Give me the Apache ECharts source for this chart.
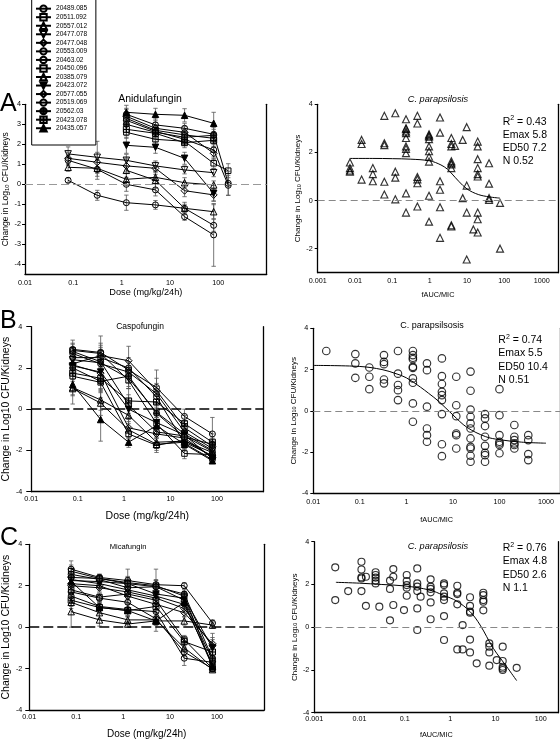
<!DOCTYPE html>
<html><head><meta charset="utf-8">
<script src="https://cdn.jsdelivr.net/npm/echarts@6/dist/echarts.min.js"></script>
<style>html,body{margin:0;padding:0;background:#fff}#c{width:560px;height:741px}</style>
</head><body><div id="c"></div>
<script>
// ---------------- DATA ----------------
const strains = ['20489.085','20511.092','20557.012','20477.078','20477.048','20553.009','20463.02','20450.096','20385.079','20423.072','20577.055','20519.069','20562.03','20423.078','20435.057'];

const doseA = [0.078, 0.3125, 1.25, 5, 20, 80, 160];
const doseBC = [0.078, 0.3125, 1.25, 5, 20, 80];

const anidulafungin = [
  [0.2,-0.55,-0.92,-1.03,-1.2,-2.05,null],
  [null,null,2.6,2.25,2.15,1.05,0.68],
  [0.85,0.8,0.25,0.35,0.08,-0.03,null],
  [1.52,1.35,1.2,0.92,0.72,0.58,null],
  [1.3,1.1,0.92,0.8,-0.32,-0.53,null],
  [null,null,3.5,2.97,2.8,2.5,0.05],
  [1.2,0.75,0.0,-0.28,-1.62,-2.53,null],
  [null,null,3.3,2.7,2.47,2.3,null],
  [null,null,0.7,0.2,-1.2,-1.37,null],
  [null,null,1.95,1.85,1.3,-0.45,null],
  [null,null,3.4,2.8,2.6,1.55,null],
  [null,null,3.2,2.65,2.25,1.72,-0.05],
  [null,null,3.0,2.6,2.35,2.45,null],
  [null,null,2.75,2.55,2.08,2.2,null],
  [null,null,3.6,3.5,3.45,3.05,null]
];
const anidulafunginSD = [
  [0.12,0.25,0.38,0.22,0.2,0.3,null],
  [null,null,0.3,0.25,0.2,0.25,0.35],
  [0.2,0.4,0.3,0.3,0.25,0.2,null],
  [0.35,0.8,0.3,0.25,0.2,0.2,null],
  [0.3,0.5,0.3,0.3,0.3,0.3,null],
  [null,null,0.3,0.3,0.25,0.35,0.6],
  [0.25,0.5,0.35,0.3,0.18,1.57,null],
  [null,null,0.3,0.25,0.3,0.3,null],
  [null,null,0.6,0.4,0.3,0.35,null],
  [null,null,0.4,0.3,0.3,0.4,null],
  [null,null,0.35,0.3,0.3,0.3,null],
  [null,null,0.3,0.3,0.3,0.35,0.5],
  [null,null,0.4,0.3,0.3,0.3,null],
  [null,null,0.3,0.3,0.25,0.3,null],
  [null,null,0.35,0.3,0.33,0.55,null]
];

const caspofungin = [
  [2.9,2.75,1.9,1.05,-0.35,-1.2],
  [2.85,2.7,1.4,-0.7,-2.15,-2.2],
  [1.05,0.45,-0.3,-1.6,-1.55,-2.1],
  [2.4,2.25,1.5,-0.15,-1.2,-2.0],
  [2.2,2.6,2.35,0.9,-0.9,-1.8],
  [2.8,2.3,0.2,-1.1,-1.3,-2.05],
  [2.7,2.2,1.8,0.75,-1.1,-1.9],
  [1.6,1.3,-1.2,-1.75,-1.5,-2.3],
  [1.0,0.3,-1.0,-1.7,-1.6,-2.25],
  [2.1,1.8,0.0,-0.65,-1.25,-2.4],
  [2.15,1.75,-0.9,-1.2,-1.4,-2.35],
  [2.5,2.5,2.0,0.6,-1.65,-2.45],
  [2.0,1.35,1.6,-0.2,-1.35,-1.7],
  [1.75,1.5,0.4,0.35,-0.7,-1.6],
  [1.2,-0.5,-1.6,-0.8,-1.7,-2.5]
];
const caspofunginSD = [
  [0.45,0.8,0.4,0.85,0.35,0.8],
  [0.3,0.5,0.4,0.3,0.25,0.2],
  [0.4,0.5,0.4,0.3,0.3,0.2],
  [0.3,0.6,0.5,0.4,0.3,0.2],
  [0.3,0.5,0.7,0.6,0.3,0.3],
  [0.4,0.6,0.5,0.3,0.3,0.2],
  [0.3,0.6,0.5,0.5,0.3,0.3],
  [0.4,0.5,0.3,0.35,0.3,0.2],
  [0.75,0.6,0.4,0.3,0.3,0.2],
  [0.3,0.5,0.5,0.4,0.3,0.15],
  [0.3,0.5,0.5,0.4,0.3,0.15],
  [0.3,0.5,0.5,0.5,0.3,0.1],
  [0.4,0.5,0.5,0.5,0.3,0.3],
  [0.4,0.5,0.6,0.5,0.4,0.4],
  [0.5,1.05,0.25,0.4,0.3,0.1]
];

const micafungin = [
  [2.8,2.4,2.25,2.05,2.0,0.2],
  [2.7,2.35,2.15,2.0,1.5,-1.9],
  [0.75,0.35,0.15,0.3,0.3,0.1],
  [2.3,2.1,1.8,1.5,1.1,-1.8],
  [2.0,1.9,1.7,1.4,0.9,-0.9],
  [1.5,1.0,0.85,0.75,-1.5,-1.7],
  [2.55,2.3,1.9,1.95,1.3,-1.6],
  [1.8,1.45,1.6,1.3,-0.6,-2.0],
  [1.2,0.7,0.35,0.35,-1.0,-2.05],
  [2.25,2.2,2.1,1.6,1.4,-1.0],
  [2.1,2.0,1.5,1.1,0.7,-0.8],
  [1.7,1.4,1.2,0.4,-1.2,-2.0],
  [2.4,2.35,2.1,1.95,1.6,-1.5],
  [1.3,0.95,0.8,1.0,-0.7,-1.2],
  [2.2,0.95,0.8,0.3,1.2,-1.9]
];
const micafunginSD = [
  [0.4,0.15,0.55,0.75,0.15,0.15],
  [0.3,0.2,0.3,0.3,0.2,0.2],
  [0.75,0.3,0.1,0.2,0.2,0.15],
  [0.3,0.2,0.3,0.3,0.2,0.2],
  [0.3,0.2,0.3,0.3,0.2,0.3],
  [0.3,0.2,0.3,0.3,0.35,0.2],
  [0.3,0.2,0.3,0.3,0.2,0.2],
  [0.3,0.2,0.3,0.3,0.2,0.15],
  [0.3,0.3,0.2,0.2,0.2,0.1],
  [0.3,0.2,0.3,0.3,0.2,0.7],
  [0.3,0.2,0.3,0.3,0.2,0.3],
  [0.3,0.2,0.3,0.3,0.2,0.15],
  [0.3,0.2,0.3,0.3,0.2,0.2],
  [0.3,0.2,0.3,0.3,0.2,0.2],
  [0.3,0.3,0.3,0.5,0.2,0.2]
];

// fAUC/MIC scatter (one x per column, list of y values per column)
const fAucA = [0.0073,0.015,0.03,0.061,0.12,0.232,0.468,0.96,1.89,3.8,4.78,7.66,9.8,14.8,19.3,38.9,76.6];
const changeA = [
  [1.58,1.35,1.25,1.2],
  [2.52,2.35,0.87],
  [1.35,1.1,0.8],
  [3.52,2.38,2.3,0.78,0.25],
  [3.63,1.2,0.95,0.05],
  [3.38,3.0,2.97,2.87,2.8,2.6,2.25,2.15,1.97,0.3,-0.5],
  [3.52,3.2,0.98,0.88,0.72,-0.25],
  [2.75,2.7,2.65,2.55,2.25,2.05,1.82,1.62,0.2,-0.88],
  [3.45,2.82,0.8,0.45,-0.28,-1.55],
  [2.6,2.35,2.25,1.63,1.55,1.5,1.35,-1.03,-1.08],
  [2.27],
  [2.52,0.1],
  [3.05,0.62,-0.5,-2.45],
  [-1.2],
  [2.45,2.25,1.72,1.35,1.1,1.0,-0.5,-0.78,-1.33],
  [1.55,0.7,0.1,0.02],
  [-0.1,-2.0]
];
const fitAx = [0.0073,0.03,0.1,0.3,1,2,3,4,6,10,20,40,76];
const fitAy = [1.75,1.75,1.74,1.72,1.65,1.48,1.3,1.1,0.8,0.48,0.25,0.15,0.1];

const fAucB = [0.019,0.08,0.16,0.33,0.66,1.38,2.77,5.8,11.8,23.9,49,100,209,416];
const changeB = [
  [2.9],
  [2.75,2.3,1.6],
  [2.1,1.65,1.05],
  [2.7,2.37,2.26,1.52,1.33],
  [2.9,1.8,1.25,1.0,0.52],
  [2.9,2.7,2.57,2.5,2.13,2.08,1.57,1.36,0.36,-0.53],
  [2.3,1.97,0.2,-0.86,-1.18,-1.5],
  [2.54,1.68,1.3,0.92,0.76,0.52,-0.16,-1.62,-2.2],
  [1.65,0.27,-0.26,-1.1,-1.18,-1.83],
  [1.9,0.97,0.06,-0.29,-0.61,-0.86,-1.34,-1.75,-1.83,-2.18,-2.47],
  [-0.16,-0.37,-0.74,-1.26,-1.7,-2.04,-2.15,-2.47],
  [1.05,-0.21,-1.18,-1.5,-1.58,-1.66,-2.06],
  [-0.69,-1.26,-1.42,-1.58,-1.66,-1.83],
  [-1.18,-1.42,-2.1,-2.39]
];
const fitBx = [0.01,0.1,0.3,0.6,1,2,3,5,10,20,50,100,300,1000];
const fitBy = [2.2,2.15,2.0,1.8,1.6,1.15,0.85,0.45,-0.2,-0.8,-1.25,-1.4,-1.52,-1.57];

const fAucC = [0.0029,0.0056,0.011,0.0138,0.0226,0.0273,0.047,0.0556,0.0957,0.11,0.188,0.223,0.371,0.733,1.44,1.89,2.75,3.86,5.41,7.34,10.7,14.5,29.5];
const changeC = [
  [2.8,1.27],
  [1.69],
  [3.06,2.7,2.33,2.28,1.69],
  [2.36,1.0],
  [2.57,2.44,2.32,2.18,2.05],
  [0.96],
  [2.18,1.79,0.32],
  [2.72,2.36,1.04],
  [0.8],
  [2.44,2.16,1.97,1.85,1.47],
  [2.75,2.05,1.9,1.69,0.88,-0.13],
  [1.43],
  [2.24,1.9,1.79,1.63,1.16,0.37],
  [2.05,1.97,1.58,1.43,1.27,0.52,-0.6],
  [1.94,1.61,1.55,1.07,-1.04],
  [0.1,-1.04],
  [1.4,1.0,0.73,0.68,-0.58,-1.18],
  [-1.69],
  [1.61,1.5,1.27,1.19,0.79],
  [-0.76,-0.91,-1.18,-1.8],
  [-1.54],
  [-0.91,-1.58,-1.85,-1.93,-2.0],
  [-1.9]
];
const fitCx = [0.003,0.01,0.03,0.1,0.35,0.7,1.4,2.75,4.6,9,17.8,29.5];
const fitCy = [2.1,2.06,2.0,1.93,1.74,1.5,1.22,0.73,0.1,-0.99,-1.85,-2.5];

const stats = [
  ['0.43','5.8','7.2','0.52'],
  ['0.74','5.5','10.4','0.51'],
  ['0.76','4.8','2.6','1.1']
];

// ---------------- STYLE / LAYOUT ----------------
const FONT = '"Liberation Sans", Arial, Helvetica, sans-serif';
const CIRCLE_CROSS = 'path://M10,5A5,5,0,1,1,0,5A5,5,0,1,1,10,5ZM5,0L5,10M0,5L10,5';
const SQUARE_CROSS = 'path://M0,0L10,0L10,10L0,10ZM5,0L5,10M0,5L10,5';
const OPEN = 'rgba(255,255,255,0)';
const markers = [
  ['circle',0,OPEN,6],['rect',0,OPEN,5.5],['triangle',0,OPEN,6.5],['triangle',180,OPEN,6.5],['diamond',0,OPEN,7],
  ['circle',0,OPEN,6],['circle',0,OPEN,6],['rect',0,OPEN,5.5],['triangle',0,OPEN,6.5],['triangle',180,'#000',6.5],
  ['diamond',0,OPEN,7],['circle',0,OPEN,6],[CIRCLE_CROSS,0,'#444',6],[SQUARE_CROSS,0,OPEN,6],['triangle',0,'#000',6.5]
];

const yName = 'Change in Log{sub|10} CFU/Kidneys';
const yNamePlain = 'Change in Log10 CFU/Kidneys';
const subRich = (fs) => ({ sub: { fontSize: fs * 0.68, verticalAlign: 'bottom', lineHeight: fs * 0.9, fontFamily: FONT, color: '#000' } });

const panels = [
  { grid:{left:24.3,top:104.3,width:242.4,height:170}, xmin:0.01, xmax:1000, xname:'Dose (mg/kg/24h)', xnameGap:14, xnameSize:9.2, xlabMargin:5,
    ymin:-4.5, ymax:4, yticks:[-4,-3,-2,-1,0,1,2,3,4], yname:yName, ynameSize:8.5, ynameGap:15, ylabMargin:4, ytick:3, zero:{color:'#999',width:1,type:[8,4]} },
  { grid:{left:317.7,top:104.3,width:240.6,height:168.4}, xmin:0.001, xmax:2786, xname:'fAUC/MIC', xnameGap:19, xnameSize:7.3, xlabMargin:5,
    ymin:-3, ymax:4, yticks:[-2,0,2,4], yname:yName, ynameSize:8, ynameGap:16, ylabMargin:5, ytick:3, zero:{color:'#888',width:1,type:[7,4]} },
  { grid:{left:26,top:326.7,width:237.3,height:165}, xmin:0.01, xmax:1000, xname:'Dose (mg/kg/24h)', xnameGap:19, xnameSize:10.5, xlabMargin:4,
    ymin:-4, ymax:4, yticks:[-4,-2,0,2,4], yname:yNamePlain, ynameSize:10.5, ynameGap:13, ylabMargin:9, ytick:5, zero:{color:'#000',width:1.6,type:[10,4]} },
  { grid:{left:313.3,top:328.3,width:247.4,height:165}, xmin:0.01, xmax:2000, xname:'fAUC/MIC', xnameGap:23, xnameSize:7.3, xlabMargin:5,
    ymin:-4, ymax:4, yticks:[-4,-2,0,2,4], yname:yName, ynameSize:8, ynameGap:16, ylabMargin:5, ytick:3, zero:{color:'#888',width:1,type:[7,4]} },
  { grid:{left:26.7,top:544.3,width:237.3,height:165.7}, xmin:0.01, xmax:1000, xname:'Dose (mg/kg/24h)', xnameGap:19, xnameSize:10,  xlabMargin:3.5,
    ymin:-4, ymax:4, yticks:[-4,-2,0,2,4], yname:yNamePlain, ynameSize:10.5, ynameGap:14, ylabMargin:7, ytick:4, zero:{color:'#000',width:1.6,type:[10,4]} },
  { grid:{left:314.3,top:541.7,width:244,height:171}, xmin:0.001, xmax:245, xname:'fAUC/MIC', xnameGap:19, xnameSize:7.3, xlabMargin:3,
    ymin:-4, ymax:4, yticks:[-4,-2,0,2,4], yname:yName, ynameSize:8, ynameGap:16, ylabMargin:5, ytick:3, zero:{color:'#888',width:1,type:[7,4]} }
];

function logLabel(v) {
  const l = Math.log10(v), r = Math.round(l);
  if (Math.abs(l - r) > 1e-6) return '';
  return r < 0 ? Math.pow(10, r).toFixed(-r) : String(Math.pow(10, r));
}
const AX = { color: '#000', width: 1.3 };

const xAxis = panels.map((p, g) => ({
  type: 'log', logBase: 10, gridIndex: g, min: p.xmin, max: p.xmax,
  axisLine: { show: true, onZero: false, lineStyle: AX },
  axisTick: { show: false },
  axisLabel: { fontSize: 7.2, color: '#000', margin: p.xlabMargin, formatter: logLabel, showMaxLabel: false, fontFamily: FONT },
  splitLine: { show: false }, minorTick: { show: false },
  name: p.xname, nameLocation: 'middle', nameGap: p.xnameGap,
  nameTextStyle: { fontSize: p.xnameSize, color: '#000', fontFamily: FONT }
}));

const yAxis = panels.map((p, g) => ({
  type: 'value', gridIndex: g, min: p.ymin, max: p.ymax, position: 'left',
  axisLine: { show: true, onZero: false, lineStyle: AX },
  axisTick: { show: true, length: p.ytick, lineStyle: { color: '#000', width: 1 }, customValues: p.yticks },
  axisLabel: { fontSize: 7.2, color: '#000', margin: p.ylabMargin, customValues: p.yticks, fontFamily: FONT },
  splitLine: { show: false },
  name: p.yname, nameLocation: 'middle', nameGap: p.ynameGap,
  nameTextStyle: { fontSize: p.ynameSize, color: '#000', fontFamily: FONT, rich: subRich(p.ynameSize) }
})).concat(panels.map((p, g) => ({
  type: 'value', gridIndex: g, min: p.ymin, max: p.ymax, position: 'right',
  axisLine: { show: true, onZero: false, lineStyle: AX },
  axisTick: { show: false }, axisLabel: { show: false }, splitLine: { show: false }
})));

function zeroLine(p) {
  return { silent: true, symbol: ['none', 'none'], label: { show: false }, animation: false,
    lineStyle: { color: p.zero.color, width: p.zero.width, type: p.zero.type }, data: [{ yAxis: 0 }] };
}

function errRender(params, api) {
  const x = api.value(0), lo = api.value(1), hi = api.value(2);
  const a = api.coord([x, hi]), b = api.coord([x, lo]);
  const w = 2.2, st = { stroke: '#555', lineWidth: 0.8 };
  return { type: 'group', children: [
    { type: 'line', shape: { x1: a[0], y1: a[1], x2: b[0], y2: b[1] }, style: st },
    { type: 'line', shape: { x1: a[0] - w, y1: a[1], x2: a[0] + w, y2: a[1] }, style: st },
    { type: 'line', shape: { x1: b[0] - w, y1: b[1], x2: b[0] + w, y2: b[1] }, style: st }
  ]};
}

const series = [];
function addDosePanel(g, doses, values, sds) {
  const err = [];
  values.forEach((row, i) => {
    const m = markers[i];
    const data = [];
    row.forEach((v, j) => {
      if (v === null) return;
      data.push([doses[j], v]);
      err.push([doses[j], v - sds[i][j], v + sds[i][j]]);
    });
    const s = {
      type: 'line', name: strains[i], xAxisIndex: g, yAxisIndex: g, data,
      symbol: m[0], symbolRotate: m[1], symbolSize: m[3], showAllSymbol: true,
      itemStyle: { color: m[2], borderColor: '#000', borderWidth: 1 },
      lineStyle: { color: '#000', width: 1 }, z: 3, animation: false, silent: true
    };
    if (i === 0) s.markLine = zeroLine(panels[g]);
    series.push(s);
  });
  series.push({ type: 'custom', xAxisIndex: g, yAxisIndex: g, data: err, renderItem: errRender,
    encode: { x: 0, y: [1, 2] }, z: 1, silent: true, animation: false });
}
function addScatterPanel(g, xs, ys, fx, fy, sym, size) {
  const data = [];
  xs.forEach((x, i) => ys[i].forEach(y => data.push([x, y])));
  series.push({ type: 'scatter', name: 'fAUC' + g, xAxisIndex: g, yAxisIndex: g, data,
    symbol: sym, symbolSize: size, silent: true, animation: false, z: 3,
    itemStyle: { color: OPEN, borderColor: '#000', borderWidth: 1.15 },
    markLine: zeroLine(panels[g]) });
  series.push({ type: 'line', name: 'fit' + g, xAxisIndex: g, yAxisIndex: g,
    data: fx.map((x, i) => [x, fy[i]]), smooth: 0.35, symbol: 'none', silent: true, animation: false, z: 4,
    lineStyle: { color: '#000', width: 1 } });
}

addDosePanel(0, doseA, anidulafungin, anidulafunginSD);
addScatterPanel(1, fAucA, changeA, fitAx, fitAy, 'triangle', 7);
addDosePanel(2, doseBC, caspofungin, caspofunginSD);
addScatterPanel(3, fAucB, changeB, fitBx, fitBy, 'circle', 7.5);
addDosePanel(4, doseBC, micafungin, micafunginSD);
addScatterPanel(5, fAucC, changeC, fitCx, fitCy, 'circle', 7);

function txt(x, y, text, size, opts) {
  return Object.assign({ type: 'text', x, y, silent: true, z: 50,
    style: Object.assign({ text, fontSize: size, fontFamily: FONT, fill: '#000', align: 'center', verticalAlign: 'middle' }, opts || {}) });
}
function statText(x, y, s) {
  return { type: 'text', x, y, silent: true, z: 50,
    style: { text: 'R{sup|2} = ' + s[0] + '\nEmax ' + s[1] + '\nED50 ' + s[2] + '\nN ' + s[3],
      fontSize: 10.5, lineHeight: 13.3, fontFamily: FONT, fill: '#000', align: 'left', verticalAlign: 'top',
      rich: { sup: { fontSize: 7, lineHeight: 13.3, verticalAlign: 'top', fontFamily: FONT, fill: '#000', padding: [0, 0, 4, 0] } } } };
}

const graphic = [
  txt(150, 99, 'Anidulafungin', 10.5),
  txt(140, 327, 'Caspofungin', 8.5),
  txt(128, 547, 'Micafungin', 7.6),
  txt(438, 99, 'C. parapsilosis', 9.2, { fontStyle: 'italic' }),
  txt(432, 326, 'C. parapsilsosis', 9),
  txt(438, 546, 'C. parapsilosis', 9.2, { fontStyle: 'italic' }),
  statText(502.7, 115, stats[0]),
  statText(498.3, 333.4, stats[1]),
  statText(502.7, 541.6, stats[2]),
  txt(0, 104.5, 'A', 25, { align: 'left' }),
  txt(0, 321.5, 'B', 25, { align: 'left' }),
  txt(0, 538.5, 'C', 25, { align: 'left' })
];

const option = {
  animation: false,
  backgroundColor: '#fff',
  textStyle: { fontFamily: FONT },
  grid: panels.map(p => Object.assign({ containLabel: false }, p.grid)),
  xAxis, yAxis, series, graphic,
  legend: {
    orient: 'vertical', left: 31.7, top: -3, padding: [7.4, 8.7, 12.5, 3.3],
    itemWidth: 15, itemHeight: 8, itemGap: 0, itemTextGap: 6, selectedMode: false,
    backgroundColor: '#fff', borderColor: '#000', borderWidth: 1, borderRadius: 0, z: 20,
    textStyle: { fontSize: 6.6, lineHeight: 8.54, color: '#000', fontFamily: FONT },
    data: strains
  }
};

const chart = echarts.init(document.getElementById('c'), null, { renderer: 'canvas', width: 560, height: 741 });
chart.setOption(option);
</script>
</body></html>
